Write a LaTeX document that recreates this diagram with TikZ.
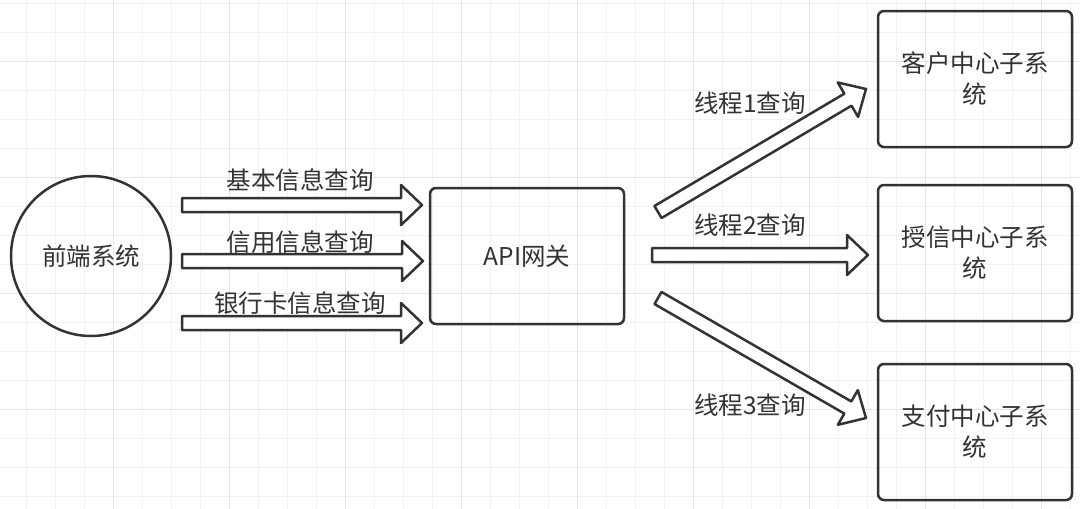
\documentclass[tikz,border=0pt]{standalone}
\usepackage{fontspec}
\setmainfont{Noto Sans CJK SC}
\usetikzlibrary{calc, positioning}

\definecolor{ink}{HTML}{333333}
\definecolor{gridminor}{HTML}{F2F2F2}
\definecolor{gridmajor}{HTML}{E6E6E6}

\tikzset{
  sys/.style={circle, draw=ink, line width=2.5pt, minimum size=160pt, inner sep=0pt,
    text=ink, font=\fontsize{24.5}{31}\selectfont},
  box/.style={rectangle, draw=ink, line width=2.5pt, rounded corners=6pt,
    minimum width=194pt, minimum height=136pt, inner sep=0pt, align=center,
    text=ink, font=\fontsize{24.5}{31}\selectfont},
  lbl/.style={text=ink, inner sep=0pt, font=\fontsize{24.5}{31}\selectfont},
  fat/.style={draw=ink, line width=2.5pt, fill=white, line join=round,
    to path={
      ($(\tikztostart)!7pt!90:(\tikztotarget)$)
      -- ($(\tikztotarget)!21pt!(\tikztostart)!7pt!90:(\tikztotarget)$)
      -- ($(\tikztotarget)!21pt!(\tikztostart)!20pt!90:(\tikztotarget)$)
      -- (\tikztotarget)
      -- ($(\tikztotarget)!21pt!(\tikztostart)!20pt!-90:(\tikztotarget)$)
      -- ($(\tikztotarget)!21pt!(\tikztostart)!7pt!-90:(\tikztotarget)$)
      -- ($(\tikztostart)!7pt!-90:(\tikztotarget)$) -- cycle}},
}

\begin{document}
\begin{tikzpicture}[x=1pt, y=-1pt]

    % background grid
    \fill[white] (0,0) rectangle (1080,509);
    \useasboundingbox (0,0) rectangle (1080,509);
    \foreach \gx in {26,55,...,1080} \draw[gridminor, line width=1pt] (\gx,0) -- (\gx,509);
    \foreach \gy in {3,32,...,509} \draw[gridminor, line width=1pt] (0,\gy) -- (1080,\gy);
    \foreach \gx in {113,229,...,1080} \draw[gridmajor, line width=1pt] (\gx,0) -- (\gx,509);
    \foreach \gy in {61,177,...,509} \draw[gridmajor, line width=1pt] (0,\gy) -- (1080,\gy);

    \node[sys] (front) at (91,256) {前端系统};
    \node[box, right=256.5pt of front] (api) {API网关};
    \node[box, right=251.5pt of api, yshift=3pt] (credit) {授信中心子系\\统};
    \node[box, above=35.5pt of credit] (cust) {客户中心子系\\统};
    \node[box, below=40.5pt of credit] (pay) {支付中心子系\\统};

    % arrow ends
    \coordinate (q1s) at (182,205);
    \coordinate (q1t) at (422,205);
    \coordinate (q2s) at (182,261);
    \coordinate (q2t) at (423,261);
    \coordinate (q3s) at (182,323);
    \coordinate (q3t) at (422,323);
    \coordinate (t1s) at (658,212);
    \coordinate (t1t) at (866,89);
    \coordinate (t2s) at (652,255);
    \coordinate (t2t) at (868,255);
    \coordinate (t3s) at (658,298);
    \coordinate (t3t) at (866,418);

    \draw[fat] (q1s) to (q1t);
    \draw[fat] (q2s) to (q2t);
    \draw[fat] (q3s) to (q3t);
    \draw[fat] (t1s) to (t1t);
    \draw[fat] (t2s) to (t2t);
    \draw[fat] (t3s) to (t3t);

    \node[lbl] (l1) at (300,180) {基本信息查询};
    \node[lbl] (l2) at (300,242) {信用信息查询};
    \node[lbl] (l3) at (300,303) {银行卡信息查询};
    \node[lbl] (m1) at (750,103) {线程1查询};
    \node[lbl] (m2) at (750,225) {线程2查询};
    \node[lbl] (m3) at (750,405) {线程3查询};

\end{tikzpicture}
\end{document}
